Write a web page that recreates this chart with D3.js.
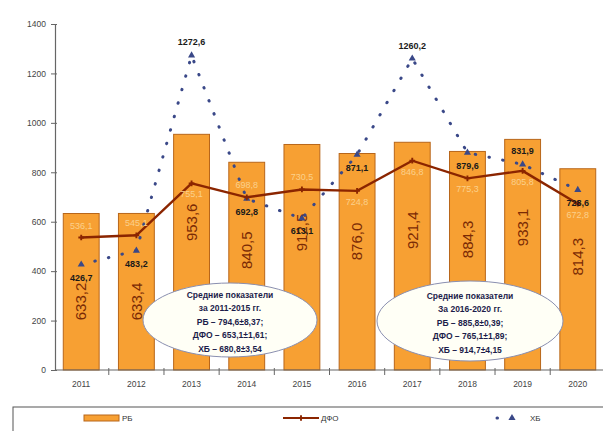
<!DOCTYPE html>
<html><head><meta charset="utf-8">
<script src="https://cdn.jsdelivr.net/npm/d3@7"></script>
<style>body{margin:0;background:#fff}svg{display:block;font-family:Arial,"Liberation Sans",sans-serif}</style>
</head><body>
<svg id="c" width="603" height="431"></svg>
<script>
const years = ['2011','2012','2013','2014','2015','2016','2017','2018','2019','2020'];
const rbValues = [633.2, 633.4, 953.6, 840.5, 912.5, 876.0, 921.4, 884.3, 933.1, 814.3];
const dfoValues = [536.1, 545.1, 755.1, 698.8, 730.5, 724.8, 846.8, 775.3, 805.8, 672.8];
const xbValues = [426.7, 483.2, 1272.6, 692.8, 613.1, 871.1, 1260.2, 879.6, 831.9, 728.6];
const yTicks = [0, 200, 400, 600, 800, 1000, 1200, 1400];
const seriesNames = ['РБ', 'ДФО', 'ХБ'];
const note1 = ['Средние показатели', 'за 2011-2015 гг.', 'РБ – 794,6±8,37;', 'ДФО – 653,1±1,61;', 'ХБ – 680,8±3,54'];
const note2 = ['Средние показатели', 'За 2016-2020 гг.', 'РБ – 885,8±0,39;', 'ДФО – 765,1±1,89;', 'ХБ – 914,7±4,15'];

const fmt = v => d3.format('.1f')(v).replace('.', ',');
const svg = d3.select('#c');
const x = d3.scaleBand().domain(years).range([55, 604]).paddingInner(0.35).paddingOuter(0.15);
const y = d3.scaleLinear().domain([0, 1400]).range([370, 24]);
const cx = d => x(d) + x.bandwidth() / 2;

const ORANGE = '#F7A033', BAR_STROKE = '#B8661A', DFO_C = '#8B2500', XB_C = '#3A4888';

// y axis
const ya = svg.append('g').attr('transform', 'translate(55,0)')
  .call(d3.axisLeft(y).tickValues(yTicks).tickSize(4).tickPadding(5).tickFormat(d3.format('d')));
ya.select('.domain').attr('stroke', '#666').attr('stroke-width', 1.2);
ya.selectAll('.tick line').attr('stroke', '#666').attr('x2', -4).attr('x1', 2);
ya.selectAll('.tick text').attr('fill', '#444').attr('font-size', 8.5);

// bars
svg.append('g').selectAll('rect').data(years).join('rect')
  .attr('x', d => x(d)).attr('width', x.bandwidth())
  .attr('y', (d, i) => y(rbValues[i])).attr('height', (d, i) => y(0) - y(rbValues[i]))
  .attr('fill', ORANGE).attr('stroke', BAR_STROKE).attr('stroke-width', 1);

// bar value labels (rotated)
svg.append('g').selectAll('text').data(years).join('text')
  .attr('transform', (d, i) => `translate(${cx(d)},${y(rbValues[i]) + 88}) rotate(-90)`)
  .attr('text-anchor', 'middle').attr('dy', '0.35em')
  .attr('font-size', 15).attr('fill', '#7A2A05')
  .text((d, i) => fmt(rbValues[i]));

// x axis
const xa = svg.append('g').attr('transform', 'translate(0,370)');
xa.append('line').attr('x1', 55).attr('x2', 603).attr('stroke', '#666').attr('stroke-width', 1.2);
xa.selectAll('line.t').data(years.slice(0, -1)).join('line').attr('class', 't')
  .attr('x1', d => x(d) + x.step() - (x.step() - x.bandwidth()) / 2)
  .attr('x2', d => x(d) + x.step() - (x.step() - x.bandwidth()) / 2)
  .attr('y1', -2).attr('y2', 5).attr('stroke', '#666');
xa.selectAll('text').data(years).join('text')
  .attr('x', d => cx(d)).attr('y', 17).attr('text-anchor', 'middle')
  .attr('font-size', 8.5).attr('fill', '#444').text(d => d);

// ХБ dotted line
const lineXb = d3.line().x((d, i) => cx(years[i])).y(d => y(d));
svg.append('path').datum(xbValues).attr('d', lineXb)
  .attr('fill', 'none').attr('stroke', XB_C).attr('stroke-width', 3)
  .attr('stroke-linecap', 'round').attr('stroke-dasharray', '0.5 13.5');
svg.append('g').selectAll('path').data(xbValues).join('path')
  .attr('transform', (d, i) => `translate(${cx(years[i])},${y(d)})`)
  .attr('d', d3.symbol(d3.symbolTriangle, 22)).attr('fill', XB_C);

// ДФО line
const lineDfo = d3.line().x((d, i) => cx(years[i])).y(d => y(d));
svg.append('path').datum(dfoValues).attr('d', lineDfo)
  .attr('fill', 'none').attr('stroke', DFO_C).attr('stroke-width', 2.4);
svg.append('g').selectAll('path').data(dfoValues).join('path')
  .attr('transform', (d, i) => `translate(${cx(years[i])},${y(d)})`)
  .attr('d', d3.symbol(d3.symbolCross, 18)).attr('fill', DFO_C);

// ДФО labels (light)
svg.append('g').selectAll('text').data(dfoValues).join('text')
  .attr('x', (d, i) => cx(years[i]))
  .attr('y', (d, i) => xbValues[i] > d ? y(d) + 14 : y(d) - 9)
  .attr('text-anchor', 'middle').attr('font-size', 9).attr('fill', '#FBD08C')
  .text(d => fmt(d));

// ХБ labels (dark)
const isPeak = i => (i === 0 || xbValues[i] > xbValues[i - 1]) && (i === xbValues.length - 1 || xbValues[i] > xbValues[i + 1]);
const above = i => isPeak(i) || (xbValues[i] > dfoValues[i] && xbValues[i] - dfoValues[i] < 40);
svg.append('g').selectAll('text').data(xbValues).join('text')
  .attr('x', (d, i) => cx(years[i]))
  .attr('y', (d, i) => above(i) ? y(d) - 10 : y(d) + 16)
  .attr('text-anchor', 'middle').attr('font-size', 9).attr('font-weight', 'bold').attr('fill', '#1a1a1a')
  .text(d => fmt(d));

// notes
function note(lines, ccx, ccy, rx, ry) {
  const g = svg.append('g');
  g.append('ellipse').attr('cx', ccx).attr('cy', ccy).attr('rx', rx).attr('ry', ry)
    .attr('fill', '#FFFFF6').attr('stroke', '#8A8FB0').attr('stroke-width', 1);
  g.selectAll('text').data(lines).join('text')
    .attr('x', ccx).attr('y', (d, i) => ccy - 25 + i * 13.5).attr('dy', '0.35em')
    .attr('text-anchor', 'middle').attr('font-size', 8.5).attr('font-weight', 'bold').attr('fill', '#1C1C4A')
    .text(d => d);
}
note(note1, 230, 320, 87, 37);
note(note2, 470, 321, 93, 40);

// legend
const lg = svg.append('g');
lg.append('rect').attr('x', 13).attr('y', 407).attr('width', 600).attr('height', 40)
  .attr('fill', 'none').attr('stroke', '#555').attr('stroke-width', 1);
lg.append('rect').attr('x', 84).attr('y', 415).attr('width', 35).attr('height', 6)
  .attr('fill', ORANGE).attr('stroke', BAR_STROKE);
lg.append('line').attr('x1', 283).attr('x2', 319).attr('y1', 418).attr('y2', 418)
  .attr('stroke', DFO_C).attr('stroke-width', 2);
lg.append('path').attr('transform', 'translate(301,418)').attr('d', d3.symbol(d3.symbolCross, 18)).attr('fill', DFO_C);
lg.append('line').attr('x1', 497).attr('x2', 527).attr('y1', 418).attr('y2', 418)
  .attr('stroke', XB_C).attr('stroke-width', 3).attr('stroke-linecap', 'round').attr('stroke-dasharray', '0.5 14.5');
lg.append('path').attr('transform', 'translate(512,418)').attr('d', d3.symbol(d3.symbolTriangle, 22)).attr('fill', XB_C);
const lx = [122, 321, 530];
lg.selectAll('text').data(seriesNames).join('text')
  .attr('x', (d, i) => lx[i]).attr('y', 418).attr('dy', '0.35em')
  .attr('font-size', 8).attr('fill', '#333').text(d => d);
</script>
</body></html>
